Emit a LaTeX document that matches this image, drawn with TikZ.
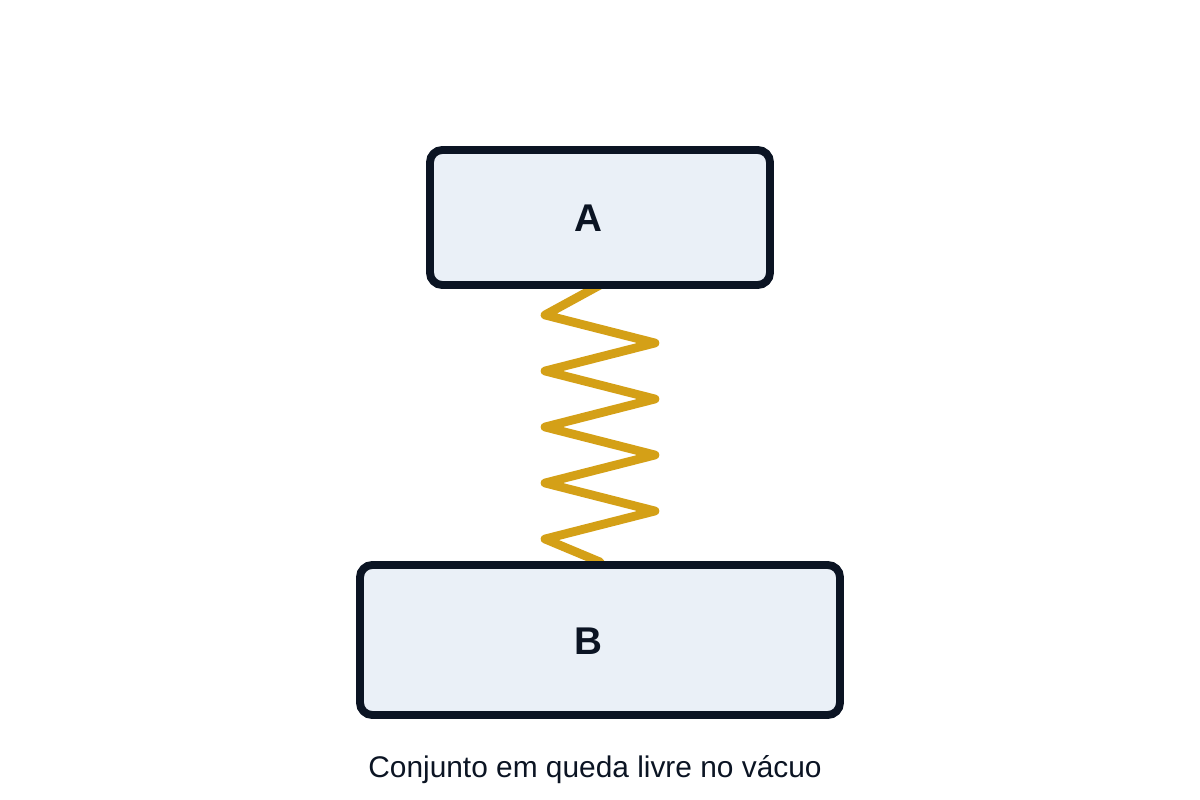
\documentclass[tikz,border=0pt]{standalone}
\usepackage{fontspec}
\setmainfont{Liberation Sans}
\definecolor{ink}{HTML}{0B1423}
\definecolor{boxfill}{HTML}{EAF0F7}
\definecolor{spring}{HTML}{D4A017}
\begin{document}
\begin{tikzpicture}[x=0.02cm,y=-0.02cm,
  blk/.style={draw=ink,fill=boxfill,line width=4.5pt,rounded corners=7pt,inner sep=0pt,font=\fontsize{22}{26}\selectfont\bfseries,text=ink},
  spr/.style={draw=spring,line width=5pt,line cap=round,line join=round}]
\useasboundingbox (0,0) rectangle (1200,800);
\coordinate (s0) at (600,285);
\coordinate (s1) at (600,562);
\draw[spr] (s0) -- (545,315) -- (655,343) -- (545,371) -- (655,399) -- (545,427) -- (655,455) -- (545,483) -- (655,511) -- (545,539) -- (s1);
\node[blk,minimum width=340*0.02cm,minimum height=135*0.02cm] (A) at (600,217.5) {};
\node[font=\fontsize{22}{26}\selectfont\bfseries,text=ink] (la) at (588,218) {A};
\node[blk,minimum width=480*0.02cm,minimum height=150*0.02cm] (B) at (600,640) {};
\node[font=\fontsize{22}{26}\selectfont\bfseries,text=ink] (lb) at (588,641) {B};
\node[font=\fontsize{17}{20}\selectfont,text=ink] (cap) at (595,770) {Conjunto em queda livre no vácuo};
\end{tikzpicture}
\end{document}
